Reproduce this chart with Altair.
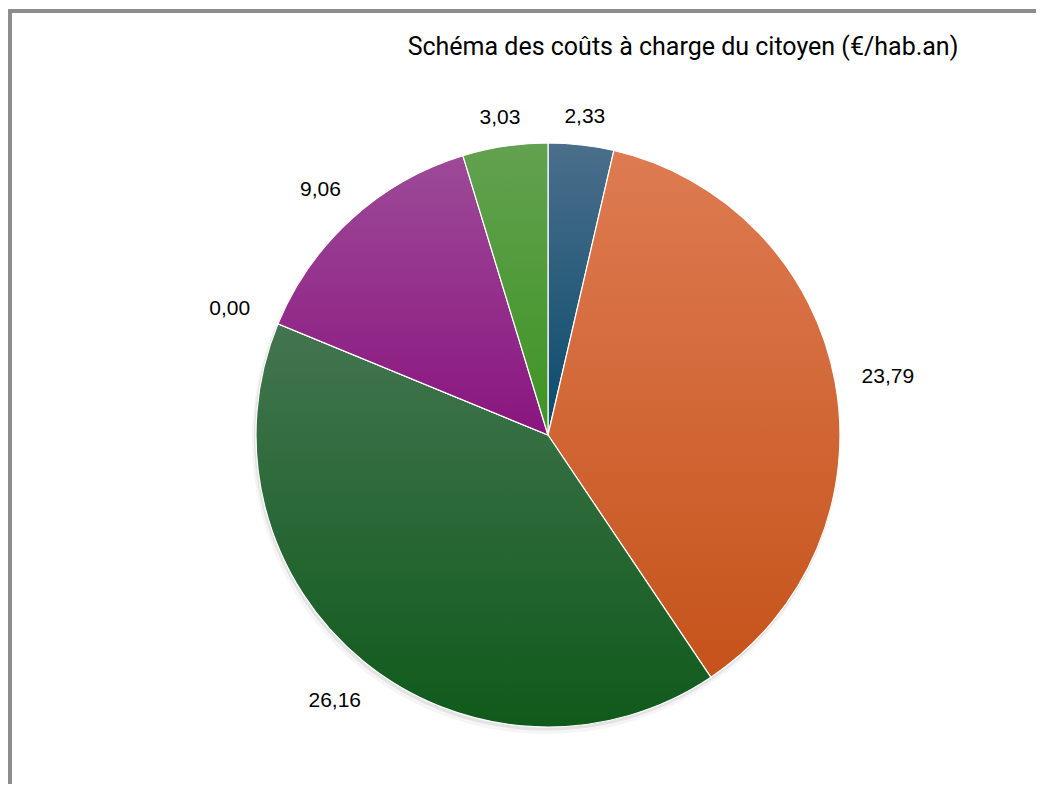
import altair as alt
import pandas as pd

# --- data -------------------------------------------------------------
categories = ["Poste 1", "Poste 2", "Poste 3", "Poste 4", "Poste 5", "Poste 6"]
values = [2.33, 23.79, 26.16, 0.00, 9.06, 3.03]
color_top = ["#4a6f8b", "#de7b52", "#437550", "#8b8b8b", "#9d4a98", "#63a150"]
color_bottom = ["#0a4a6c", "#c5531a", "#0f5a1b", "#555555", "#8a157f", "#3d9422"]
title_text = "Schéma des coûts à charge du citoyen (€/hab.an)"

df = pd.DataFrame({"cat": categories, "value": values, "order": list(range(len(values)))})
total = float(sum(values))

W, H = 1028, 776
CX, CY, R = 540, 427, 292


def grad(c1, c2):
    return {
        "gradient": "linear",
        "x1": 0, "y1": 0, "x2": 0, "y2": 1,
        "stops": [{"offset": 0, "color": c1}, {"offset": 1, "color": c2}],
    }


conds = [
    {"test": f"datum.cat === '{c}'", "value": grad(t, b)}
    for c, t, b in zip(categories, color_top, color_bottom)
]

theta_scale = alt.Scale(domain=[0, total], range=[0, 6.283185307179586])

base = alt.Chart(df).transform_window(
    cum="sum(value)", sort=[alt.SortField("order")], frame=[None, 0]
).transform_calculate(
    start="datum.cum - datum.value",
    midv="datum.cum - datum.value / 2",
    mid=f"(datum.cum - datum.value / 2) / {total} * 2 * PI",
    r="322 + 24 * abs(sin(datum.mid))",
    lab="replace(format(datum.value, '.2f'), '.', ',')",
)

arc_enc = dict(
    theta=alt.Theta("start:Q", scale=theta_scale, stack=None),
    theta2=alt.Theta2("cum:Q"),
    x=alt.value(CX),
    y=alt.value(CY),
)

shadow1 = base.mark_arc(outerRadius=R + 2, xOffset=-2, yOffset=5, color="#000000", opacity=0.04).encode(**arc_enc)
shadow2 = base.mark_arc(outerRadius=R + 1, xOffset=-1, yOffset=2.5, color="#000000", opacity=0.07).encode(**arc_enc)

pie = base.mark_arc(outerRadius=R, stroke="white", strokeWidth=1.2).encode(
    fill=alt.FillValue(value="#888888", condition=conds), **arc_enc
)

labels = base.mark_text(
    font="Liberation Sans", fontSize=21, color="#000000", align="center", baseline="middle", dy=5
).encode(
    theta=alt.Theta("midv:Q", scale=theta_scale, stack=None),
    radius=alt.Radius("r:Q", scale=None),
    x=alt.value(CX),
    y=alt.value(CY),
    text="lab:N",
)

# chart frame (only left and top edges visible, as in the reference)
frame_left = alt.Chart(df).mark_rule(color="#8c8c8c", strokeWidth=3).encode(
    x=alt.value(2), y=alt.value(2), y2=alt.value(H + 10)
)
frame_top = alt.Chart(df).mark_rule(color="#8c8c8c", strokeWidth=3).encode(
    x=alt.value(0.5), x2=alt.value(W + 10), y=alt.value(3)
)

chart = alt.layer(frame_left, frame_top, shadow1, shadow2, pie, labels).properties(
    width=W,
    height=H,
    padding=0,
    autosize=alt.AutoSizeParams(type="none"),
    title=alt.TitleParams(
        text=title_text,
        font="Roboto",
        fontSize=25,
        fontWeight="normal",
        color="#000000",
        anchor="middle",
        dx=161,
        dy=76,
        baseline="alphabetic",
    ),
).configure(
    background="white"
).configure_view(
    stroke="#ffffff", strokeOpacity=0, strokeWidth=0, clip=False
)

chart.save("out.html", embed_options={"renderer": "svg", "actions": False})
